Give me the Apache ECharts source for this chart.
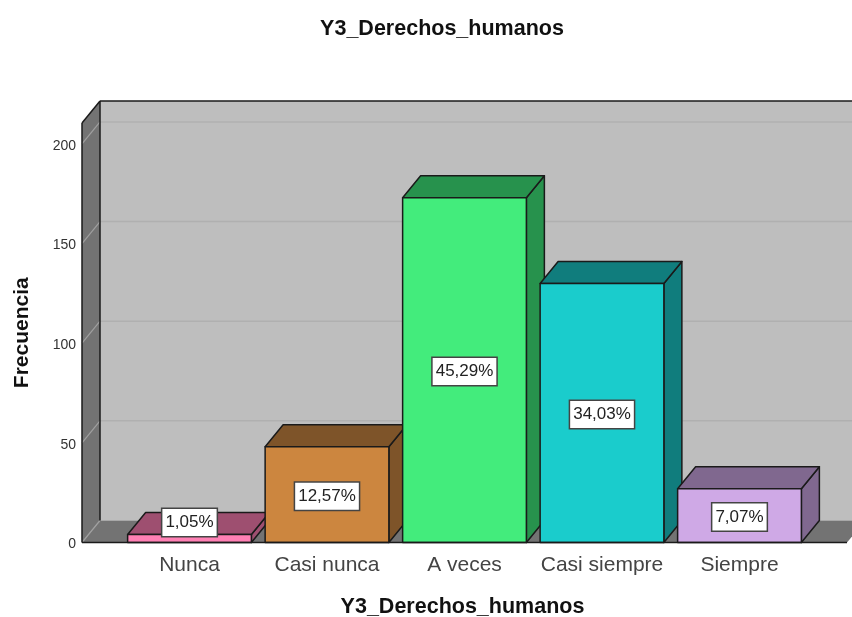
<!DOCTYPE html>
<html>
<head>
<meta charset="utf-8">
<style>html,body{margin:0;padding:0;background:#fff}#c{width:852px;height:617px}</style>
<script src="https://cdn.jsdelivr.net/npm/echarts@6/dist/echarts.min.js"></script>
</head>
<body>
<div id="c"></div>
<script>
const categories = ['Nunca', 'Casi nunca', 'A veces', 'Casi siempre', 'Siempre'];
const frequencies = [4, 48, 173, 130, 27];
const percentLabels = ['1,05%', '12,57%', '45,29%', '34,03%', '7,07%'];
const yTicks = [0, 50, 100, 150, 200];
const frontColors = ['#ff80b4', '#cc863f', '#43ec7c', '#1acccc', '#cfa9e6'];
const depthColors = ['#9e4f70', '#7e5429', '#27924d', '#107d7d', '#80688f'];

const DX = 18, DY = 22;           // depth of the pseudo-3D projection
const EDGE = '#1a1a1a';
const FONT = '"Liberation Sans", Arial, sans-serif';
const AXIS_MAX = 210.5;
const LEFT_PAD = 38.75, RIGHT_PAD = 38.75;

const chart = echarts.init(document.getElementById('c'), null, {renderer: 'canvas'});

function renderBackdrop(params, api) {
  const cs = params.coordSys;
  const x0 = cs.x - LEFT_PAD, x1 = cs.x + cs.width + RIGHT_PAD;
  const yB = api.coord([0, 0])[1], yT = api.coord([0, AXIS_MAX])[1];
  const kids = [];
  const poly = (pts, fill, stroke, lw) => ({
    type: 'polygon', shape: {points: pts},
    style: {fill: fill, stroke: stroke, lineWidth: lw}
  });
  const line = (a, b, col, lw) => ({
    type: 'line', shape: {x1: a[0], y1: a[1], x2: b[0], y2: b[1]},
    style: {stroke: col, lineWidth: lw, fill: null}
  });
  // back wall, left wall, floor
  kids.push(poly([[x0 + DX, yT - DY], [x1 + DX, yT - DY], [x1 + DX, yB - DY], [x0 + DX, yB - DY]], '#bebebe', null, 0));
  kids.push(poly([[x0, yB], [x0 + DX, yB - DY], [x1 + DX, yB - DY], [x1, yB]], '#737373', null, 0));
  kids.push(poly([[x0, yT], [x0 + DX, yT - DY], [x0 + DX, yB - DY], [x0, yB]], '#737373', null, 0));
  // gridlines on the back wall with their diagonals on the left wall
  yTicks.forEach(t => {
    const y = api.coord([0, t])[1];
    if (t > 0) kids.push(line([x0 + DX, y - DY], [x1 + DX, y - DY], '#b0b0b0', 1.5));
    kids.push(line([x0, y], [x0 + DX, y - DY], '#a0a0a0', 1.2));
  });
  // outlines
  kids.push(line([x0, yT], [x0 + DX, yT - DY], EDGE, 1.5));
  kids.push(line([x0 + DX, yT - DY], [x1 + DX, yT - DY], EDGE, 1.5));
  kids.push(line([x0 + DX, yT - DY], [x0 + DX, yB - DY], EDGE, 1.5));
  kids.push(line([x0, yT], [x0, yB], EDGE, 1.5));
  return {type: 'group', children: kids};
}

function renderBar(params, api) {
  const i = api.value(0), v = api.value(1);
  const w = api.size([1, 0])[0] * 0.9;
  const top = api.coord([i, v]), base = api.coord([i, 0]);
  const l = top[0] - w / 2, r = top[0] + w / 2, t = top[1], b = base[1];
  const stroke = {stroke: EDGE, lineWidth: 1.5, lineJoin: 'round'};
  const dc = depthColors[params.dataIndex];
  return {
    type: 'group',
    children: [
      {type: 'polygon', shape: {points: [[r, t], [r + DX, t - DY], [r + DX, b - DY], [r, b]]}, style: Object.assign({fill: dc}, stroke)},
      {type: 'polygon', shape: {points: [[l, t], [l + DX, t - DY], [r + DX, t - DY], [r, t]]}, style: Object.assign({fill: dc}, stroke)},
      {type: 'rect', shape: {x: l, y: t, width: w, height: b - t}, style: Object.assign({fill: frontColors[params.dataIndex]}, stroke)}
    ]
  };
}

function renderLabel(params, api) {
  const i = api.value(0), v = api.value(1);
  const top = api.coord([i, v]), base = api.coord([i, 0]);
  const cy = Math.min((top[1] + base[1]) / 2 + 1.5, base[1] - 20);
  return {
    type: 'text',
    style: {
      text: percentLabels[params.dataIndex],
      x: top[0], y: cy, align: 'center', verticalAlign: 'middle',
      fill: '#222', font: '17px ' + FONT,
      backgroundColor: '#fff', borderColor: '#444', borderWidth: 1.5,
      padding: [5, 3, 5, 3]
    }
  };
}

const barData = categories.map((c, i) => [i, frequencies[i]]);

chart.setOption({
  animation: false,
  backgroundColor: '#fff',
  title: {
    text: 'Y3_Derechos_humanos', left: 437, top: 13, textAlign: 'center',
    textStyle: {fontFamily: FONT, fontSize: 21.5, fontWeight: 'bold', color: '#111'}
  },
  grid: {left: 82 + LEFT_PAD, right: 5 + RIGHT_PAD, top: 123, bottom: 74.5, outerBoundsMode: 'none'},
  xAxis: {
    type: 'category', data: categories,
    name: 'Y3_Derechos_humanos', nameLocation: 'middle', nameGap: 54,
    nameTextStyle: {fontFamily: FONT, fontSize: 21.5, fontWeight: 'bold', color: '#111', padding: [0, 4, 0, 0]},
    axisLine: {show: false}, axisTick: {show: false},
    axisLabel: {fontFamily: FONT, fontSize: 21, color: '#444', margin: 12, interval: 0}
  },
  yAxis: {
    type: 'value', min: 0, max: AXIS_MAX, interval: 50, offset: LEFT_PAD,
    name: 'Frecuencia', nameLocation: 'middle', nameGap: 49, nameRotate: 90,
    nameTextStyle: {fontFamily: FONT, fontSize: 21, fontWeight: 'bold', color: '#111'},
    axisLine: {show: false}, axisTick: {show: false}, splitLine: {show: false},
    axisLabel: {fontFamily: FONT, fontSize: 14, color: '#333', margin: 6, showMaxLabel: false, verticalAlign: 'top', lineHeight: 4}
  },
  series: [
    {type: 'custom', name: 'backdrop', renderItem: renderBackdrop, data: [[0, 0]], z: 1, silent: true, clip: false,
      encode: {x: 0, y: 1}},
    {type: 'custom', name: 'Frecuencia', renderItem: renderBar, data: barData, z: 2, clip: false,
      encode: {x: 0, y: 1}},
    {type: 'custom', name: 'Porcentaje', renderItem: renderLabel, data: barData, z: 3, clip: false,
      encode: {x: 0, y: 1}},
    {type: 'custom', name: 'baseline', z: 2.5, silent: true, clip: false, data: [[0, 0]], encode: {x: 0, y: 1},
      renderItem: (params, api) => {
        const cs = params.coordSys, y = api.coord([0, 0])[1];
        return {type: 'line',
          shape: {x1: cs.x - LEFT_PAD, y1: y, x2: cs.x + cs.width + RIGHT_PAD, y2: y},
          style: {stroke: EDGE, lineWidth: 1.5}};
      }}
  ]
});
</script>
</body>
</html>
